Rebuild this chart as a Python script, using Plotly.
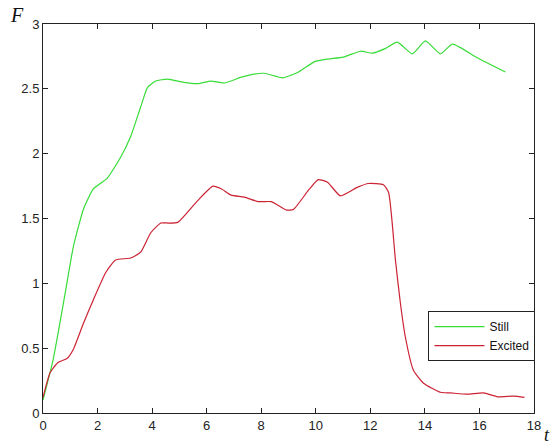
import plotly.graph_objects as go

still_x = [0, 0.37, 0.81, 1.11, 1.48, 1.85, 2.35, 2.84, 3.21, 3.58, 3.83, 4.13, 4.57, 5.16, 5.68,
           6.16, 6.64, 7.27, 7.64, 8.11, 8.8, 9.37, 9.96, 10.45, 11.01, 11.64, 12.08, 12.54, 12.99,
           13.54, 14.02, 14.57, 15.01, 15.92, 16.95]
still_y = [0.1, 0.41, 0.92, 1.28, 1.57, 1.73, 1.81, 1.97, 2.13, 2.36, 2.51, 2.56, 2.575, 2.55, 2.54,
           2.56, 2.545, 2.59, 2.61, 2.62, 2.585, 2.63, 2.71, 2.73, 2.745, 2.79, 2.775, 2.81, 2.86,
           2.77, 2.87, 2.77, 2.845, 2.74, 2.63]

excited_x = [0, 0.26, 0.55, 0.88, 1.11, 1.48, 1.84, 2.29, 2.66, 3.21, 3.58, 3.95, 4.32, 4.6, 4.94,
             5.68, 6.23, 6.53, 6.9, 7.38, 7.9, 8.37, 8.93, 9.18, 9.74, 10.09, 10.43, 10.9, 11.52,
             11.93, 12.48, 12.67, 12.92, 13.1, 13.28, 13.58, 13.95, 14.57, 14.93, 15.56, 16.15,
             16.67, 17.25, 17.65]
excited_y = [0.12, 0.31, 0.39, 0.42, 0.49, 0.69, 0.87, 1.08, 1.18, 1.195, 1.24, 1.39, 1.465, 1.465,
             1.47, 1.64, 1.75, 1.73, 1.68, 1.665, 1.63, 1.63, 1.565, 1.57, 1.72, 1.80, 1.78, 1.675,
             1.74, 1.77, 1.76, 1.70, 1.18, 0.85, 0.59, 0.33, 0.23, 0.16, 0.155, 0.145, 0.155, 0.125,
             0.13, 0.12]

x_ticks = [0, 2, 4, 6, 8, 10, 12, 14, 16, 18]
y_ticks = [0, 0.5, 1, 1.5, 2, 2.5, 3]
y_tick_labels = ["0", "0.5", "1", "1.5", "2", "2.5", "3"]

fig = go.Figure()
fig.add_trace(go.Scatter(x=still_x, y=still_y, mode="lines", name="Still",
                         line=dict(color="#38dc38", width=1.2, shape="spline", smoothing=0.5)))
fig.add_trace(go.Scatter(x=excited_x, y=excited_y, mode="lines", name="Excited",
                         line=dict(color="#cc2233", width=1.2, shape="spline", smoothing=0.5)))

axis_common = dict(showgrid=False, zeroline=False, showline=True, linecolor="#222",
                   linewidth=1, mirror="ticks", ticks="inside", ticklen=5, tickcolor="#222",
                   automargin=False,
                   tickfont=dict(family="Liberation Sans, Arial, sans-serif", size=13, color="#222"))

fig.update_xaxes(range=[0, 18], tickvals=x_ticks, ticktext=[str(v) for v in x_ticks], **axis_common)
fig.update_yaxes(range=[0, 3], tickvals=y_ticks, ticktext=y_tick_labels, **axis_common)

fig.add_annotation(text="<i>F</i>", xref="paper", yref="paper", x=-0.072, y=1.022,
                   xanchor="left", yanchor="middle", showarrow=False,
                   font=dict(family="Liberation Serif, Times New Roman, serif", size=20, color="#111"))
fig.add_annotation(text="<i>t</i>", xref="paper", yref="paper", x=1.016, y=-0.087,
                   xanchor="left", yanchor="bottom", showarrow=False,
                   font=dict(family="Liberation Serif, Times New Roman, serif", size=18, color="#111"))

fig.update_layout(
    width=559, height=448,
    margin=dict(l=43, r=25, t=24, b=35, autoexpand=False),
    paper_bgcolor="white", plot_bgcolor="white",
    showlegend=True,
    legend=dict(x=1.003, y=0.262, xanchor="right", yanchor="top",
                bgcolor="white", bordercolor="#222", borderwidth=1,
                font=dict(family="Liberation Sans, Arial, sans-serif", size=12, color="#111"),
                tracegroupgap=0, itemwidth=50),
)

fig.write_html("out.html", config={"displayModeBar": False},
               post_script="document.body.style.margin='0';document.body.style.padding='0';")
